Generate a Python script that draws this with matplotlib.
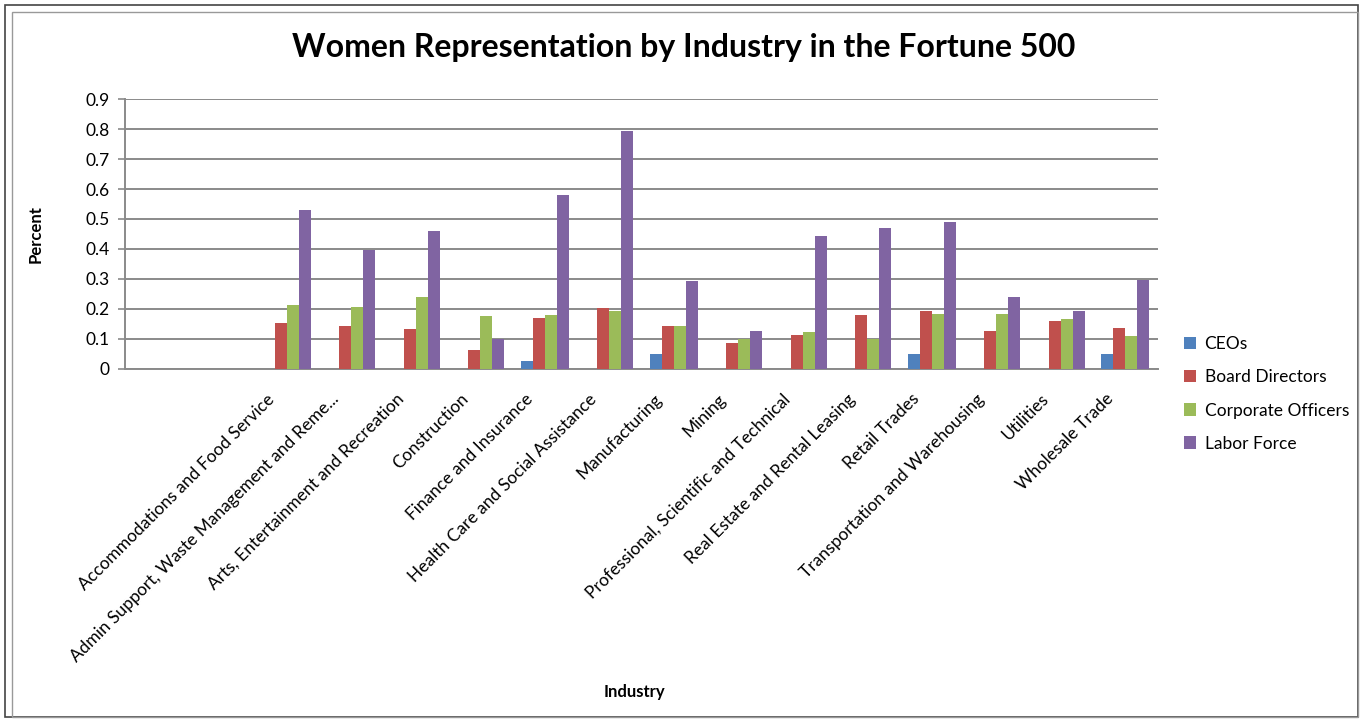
import numpy as np
import matplotlib
matplotlib.use("Agg")
import matplotlib.pyplot as plt
from matplotlib.patches import Rectangle
from matplotlib.transforms import ScaledTranslation

plt.rcParams['font.family'] = ['Lato', 'DejaVu Sans']

# data
industries = [
    'Accommodations and Food Service',
    'Admin Support, Waste Management and Reme...',
    'Arts, Entertainment and Recreation',
    'Construction',
    'Finance and Insurance',
    'Health Care and Social Assistance',
    'Manufacturing',
    'Mining',
    'Professional, Scientific and Technical',
    'Real Estate and Rental Leasing',
    'Retail Trades',
    'Transportation and Warehousing',
    'Utilities',
    'Wholesale Trade',
]
ceos = [0, 0, 0, 0, 0.025, 0, 0.048, 0, 0, 0, 0.048, 0, 0, 0.048]
board_directors = [0.152, 0.142, 0.132, 0.061, 0.169, 0.202, 0.142, 0.085,
                   0.112, 0.179, 0.192, 0.125, 0.159, 0.135]
corporate_officers = [0.212, 0.206, 0.239, 0.176, 0.179, 0.192, 0.142, 0.098,
                      0.122, 0.098, 0.182, 0.182, 0.165, 0.108]
labor_force = [0.531, 0.397, 0.461, 0.098, 0.581, 0.793, 0.293, 0.125,
               0.444, 0.471, 0.491, 0.239, 0.192, 0.296]
series_names = ['CEOs', 'Board Directors', 'Corporate Officers', 'Labor Force']
y_ticks = [0, 0.1, 0.2, 0.3, 0.4, 0.5, 0.6, 0.7, 0.8, 0.9]
y_tick_labels = ['0', '0.1', '0.2', '0.3', '0.4', '0.5', '0.6', '0.7', '0.8', '0.9']

colors = ['#4F81BD', '#C0504D', '#9BBB59', '#8064A2']

fig = plt.figure(figsize=(13.67, 7.21), dpi=100)
ax = fig.add_axes([0.0914, 0.4889, 0.7557, 0.3734])

x = np.arange(len(industries))
w = 0.186
all_series = [ceos, board_directors, corporate_officers, labor_force]
for i, (vals, name, c) in enumerate(zip(all_series, series_names, colors)):
    ax.bar(x + (i - 1.5) * w, vals, width=w, color=c, label=name, zorder=3)

ax.set_xlim(-2.51, 13.51)
ax.set_ylim(0, 0.9)
ax.set_yticks(y_ticks)
ax.set_yticklabels(y_tick_labels, fontsize=12.5)
ax.yaxis.grid(True, color='#8a8a8a', linewidth=1.4, zorder=0)
ax.set_axisbelow(True)

ax.set_xticks(x)
ax.set_xticklabels(industries, rotation=45, ha='right', fontsize=12.5)
ax.tick_params(axis='x', length=0, pad=6)
ax.tick_params(axis='y', length=5, color='#8a8a8a', width=1.2, pad=6)

# nudge category labels down-left like the original
shift = ScaledTranslation(-0.09, -0.14, fig.dpi_scale_trans)
for lab in ax.get_xticklabels():
    lab.set_transform(lab.get_transform() + shift)

for s in ['top', 'right']:
    ax.spines[s].set_visible(False)
ax.spines['left'].set_color('#8a8a8a')
ax.spines['left'].set_linewidth(1.4)
ax.spines['bottom'].set_color('#8a8a8a')
ax.spines['bottom'].set_linewidth(1.4)

ax.set_ylabel('Percent', fontsize=12, fontweight='bold')
ax.yaxis.set_label_coords(-0.079, 0.5)
ax.set_xlabel('Industry', fontsize=12, fontweight='bold')
ax.xaxis.set_label_coords(0.493, -1.172)

fig.text(0.5, 1 - 48 / 721, 'Women Representation by Industry in the Fortune 500',
         ha='center', va='center', fontsize=23, fontweight='bold')

fig.legend(loc='center left', bbox_to_anchor=(1175 / 1367, 1 - 394 / 721),
           frameon=False, fontsize=12.5, handlelength=0.7, handleheight=0.7,
           handletextpad=0.5, labelspacing=0.98, borderpad=0)

# chart border
fig.patches.append(Rectangle((5 / 1367, 4 / 721), 1353 / 1367, 712 / 721,
                             transform=fig.transFigure, fill=False,
                             edgecolor='#444444', linewidth=1.2))
fig.patches.append(Rectangle((12 / 1367, 4 / 721), 1346 / 1367, 705 / 721,
                             transform=fig.transFigure, fill=False,
                             edgecolor='#999999', linewidth=1.0))

fig.savefig('out.png', dpi=100)
